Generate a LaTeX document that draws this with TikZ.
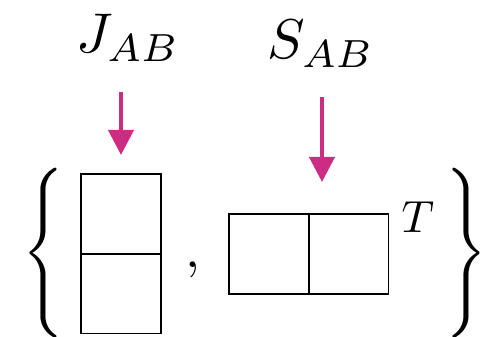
\documentclass[tikz,border=0pt]{standalone}
\usepackage{amsmath}
\usetikzlibrary{arrows.meta,positioning}
\definecolor{pointpink}{RGB}{204,45,130}
\tikzset{
  cell/.style={rectangle, draw=black, line width=1.6pt, minimum width=80pt,
               minimum height=80pt, inner sep=0pt, outer sep=0pt},
  tag/.style={anchor=base, inner sep=0pt, scale=5.6},
  pointer/.style={-{Triangle[width=25pt,length=25pt]}, line width=4pt, draw=pointpink},
  bigbrace/.style={inner sep=0pt, xscale=5.2, yscale=5.67}
}
\begin{document}
\begin{tikzpicture}[x=1pt, y=1pt]
\useasboundingbox (0,0) rectangle (496,337);
% the two cells of J and of S
\foreach \name/\x/\y in {jtop/121/123, jbot/121/43.5, sleft/269/83, sright/348.5/83}
  \node[cell] (\name) at (\x,\y) {};
% braces, comma and transpose
\node[bigbrace] (lbrace) at (43,84) {$\Biggl\{$};
\node[bigbrace] (rbrace) at (466,84) {$\Biggr\}$};
\node[tag, scale=0.96] (comma) at (193,69) {$,$};
\node[anchor=base, inner sep=0pt, scale=4.5] (trans) at (418,104) {$T$};
% labels and pointers
\node[tag] (jlabel) at (128,284) {$J_{AB}$};
\node[tag] (slabel) at (321,278) {$S_{AB}$};
\coordinate (jfrom) at (121,245);
\coordinate (jto) at (121,182);
\coordinate (sfrom) at (322,240);
\coordinate (sto) at (322,155);
\draw[pointer] (jfrom) -- (jto);
\draw[pointer] (sfrom) -- (sto);
\end{tikzpicture}
\end{document}
